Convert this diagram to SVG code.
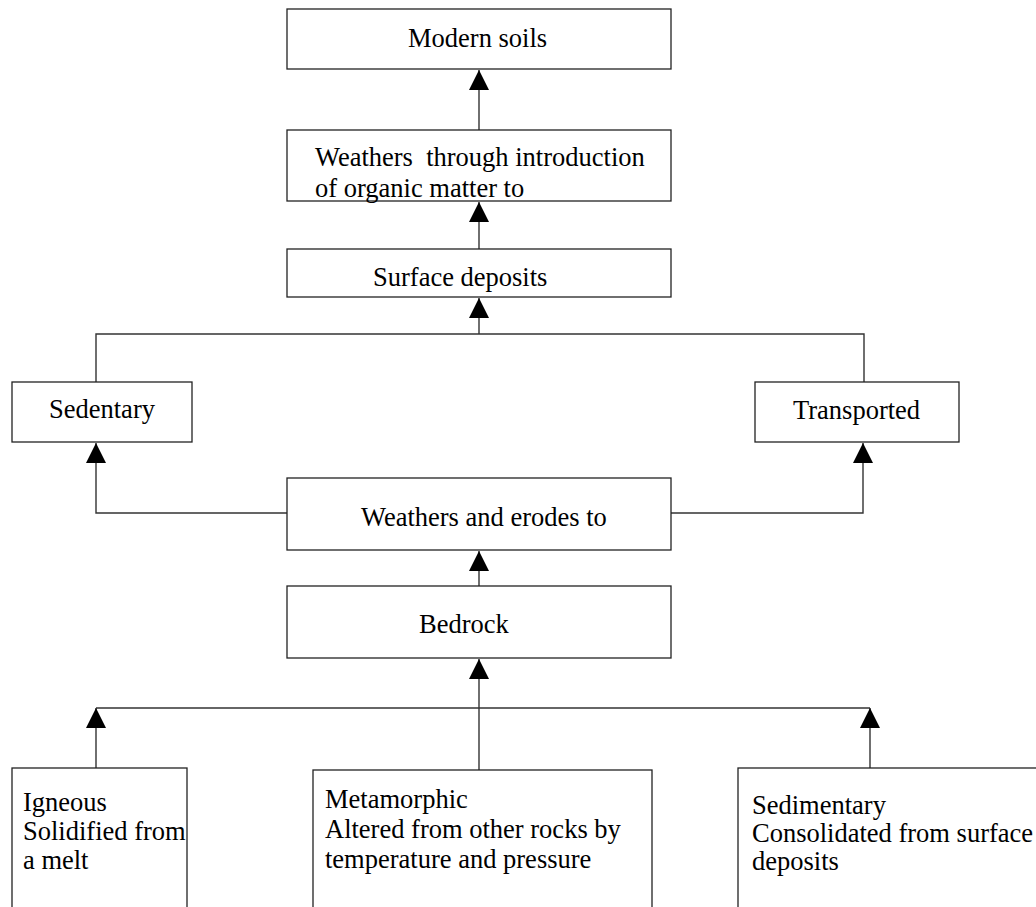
<svg xmlns="http://www.w3.org/2000/svg" width="1036" height="907" viewBox="0 0 1036 907">
<style>
.box{fill:#fff;stroke:#222;stroke-width:1.3}
.ln{fill:none;stroke:#333;stroke-width:1.4}
text{font-family:"Liberation Serif","Times New Roman",serif;font-size:26.5px;fill:#000}
</style>
<defs>
<marker id="ah" markerUnits="userSpaceOnUse" markerWidth="20" markerHeight="20" viewBox="0 0 18 18" refX="18" refY="9" orient="auto">
<path d="M0,0 L18,9 L0,18 Z" fill="#000"/>
</marker>
</defs>
<rect width="1036" height="907" fill="#fff"/>
<g id="connectors">
<line class="ln" x1="479" y1="130" x2="479" y2="70" marker-end="url(#ah)"/>
<line class="ln" x1="479" y1="249" x2="479" y2="202" marker-end="url(#ah)"/>
<polyline class="ln" points="96,382 96,334 864,334 864,382"/>
<line class="ln" x1="479" y1="334" x2="479" y2="298" marker-end="url(#ah)"/>
<polyline class="ln" points="287,513 96,513 96,443" marker-end="url(#ah)"/>
<polyline class="ln" points="671,513 863,513 863,443" marker-end="url(#ah)"/>
<line class="ln" x1="479" y1="586" x2="479" y2="551" marker-end="url(#ah)"/>
<line class="ln" x1="96" y1="708" x2="870" y2="708"/>
<line class="ln" x1="479" y1="770" x2="479" y2="659" marker-end="url(#ah)"/>
<line class="ln" x1="96" y1="768" x2="96" y2="708" marker-end="url(#ah)"/>
<line class="ln" x1="870" y1="768" x2="870" y2="708" marker-end="url(#ah)"/>
</g>
<g id="modern-soils">
<rect class="box" x="287" y="9" width="384" height="60"/>
<text x="408" y="47">Modern soils</text>
</g>
<g id="weathers-organic">
<rect class="box" x="287" y="130" width="384" height="71"/>
<text x="315" y="166" xml:space="preserve">Weathers  through introduction</text>
<text x="315" y="197">of organic matter to</text>
</g>
<g id="surface-deposits">
<rect class="box" x="287" y="249" width="384" height="48"/>
<text x="373" y="286">Surface deposits</text>
</g>
<g id="sedentary">
<rect class="box" x="12" y="382" width="180" height="60"/>
<text x="49" y="418">Sedentary</text>
</g>
<g id="transported">
<rect class="box" x="755" y="382" width="204" height="60"/>
<text x="793" y="419">Transported</text>
</g>
<g id="weathers-erodes">
<rect class="box" x="287" y="478" width="384" height="72"/>
<text x="361" y="526">Weathers and erodes to</text>
</g>
<g id="bedrock">
<rect class="box" x="287" y="586" width="384" height="72"/>
<text x="419" y="633">Bedrock</text>
</g>
<g id="igneous">
<rect class="box" x="12" y="768" width="175" height="160"/>
<text x="23" y="811">Igneous</text>
<text x="23" y="840">Solidified from</text>
<text x="23" y="869">a melt</text>
</g>
<g id="metamorphic">
<rect class="box" x="313" y="770" width="339" height="160"/>
<text x="325" y="808">Metamorphic</text>
<text x="325" y="838">Altered from other rocks by</text>
<text x="325" y="868">temperature and pressure</text>
</g>
<g id="sedimentary">
<rect class="box" x="738" y="768" width="310" height="160"/>
<text x="752" y="814">Sedimentary</text>
<text x="752" y="842">Consolidated from surface</text>
<text x="752" y="870">deposits</text>
</g>
</svg>
